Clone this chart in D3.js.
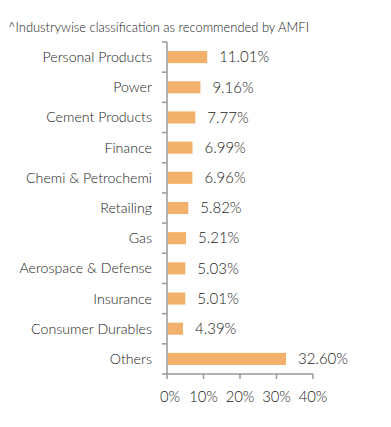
<!DOCTYPE html>
<html><head><meta charset="utf-8">
<script src="https://cdn.jsdelivr.net/npm/d3@7"></script>
<style>body{margin:0;background:#fff;} text{font-family:Lato, "Open Sans", sans-serif;}</style>
</head><body>
<svg id="c" width="391" height="427"></svg>
<script>
const categories = ["Personal Products","Power","Cement Products","Finance","Chemi & Petrochemi","Retailing","Gas","Aerospace & Defense","Insurance","Consumer Durables","Others"];
const values = [11.01,9.16,7.77,6.99,6.96,5.82,5.21,5.03,5.01,4.39,32.60];
const xTicks = [0,10,20,30,40];
const note = "^Industrywise classification as recommended by AMFI";

(function(){
const svg = d3.select("#c");
const mLeft = 167, mRight = 313, mTop = 42, mBottom = 374;
const txt = "#1a1a1a";
const x = d3.scaleLinear().domain([0,40]).range([mLeft,mRight]);
const y = d3.scaleBand().domain(categories).range([mTop,mBottom]).paddingInner(0.6).paddingOuter(0.3);
const yTickScale = d3.scaleLinear().domain([0,categories.length]).range([mTop,mBottom]);

svg.append("text").attr("x",8).attr("y",32).attr("font-size",13).attr("font-weight",300).attr("fill",txt).attr("textLength",301).attr("lengthAdjust","spacingAndGlyphs").text(note);

const g = svg.append("g");
g.append("line").attr("x1",mLeft).attr("x2",mLeft).attr("y1",mTop).attr("y2",mBottom).attr("stroke","#999").attr("stroke-width",1.5);
d3.range(categories.length+1).forEach(i=>{
  g.append("line").attr("x1",mLeft-5).attr("x2",mLeft).attr("y1",yTickScale(i)).attr("y2",yTickScale(i)).attr("stroke","#999").attr("stroke-width",1.5);
});
g.append("line").attr("x1",mLeft).attr("x2",mRight).attr("y1",mBottom).attr("y2",mBottom).attr("stroke","#999").attr("stroke-width",1.5);
xTicks.forEach(t=>{
  g.append("line").attr("x1",x(t)).attr("x2",x(t)).attr("y1",mBottom).attr("y2",mBottom+5).attr("stroke","#999").attr("stroke-width",1.5);
  g.append("text").attr("x",x(t)+(t===0?3:0)).attr("y",mBottom+28).attr("text-anchor","middle").attr("font-size",14.8).attr("font-weight",300).attr("fill",txt).text(t+"%");
});
g.selectAll("rect.bar").data(values).enter().append("rect")
  .attr("x",x(0)+1).attr("y",(d,i)=>y(categories[i]))
  .attr("width",d=>x(d)-x(0)-1).attr("height",y.bandwidth()).attr("fill","#F2B16A");
g.selectAll("text.cat").data(categories).enter().append("text")
  .attr("x",152).attr("y",d=>y(d)+y.bandwidth()/2).attr("dy","0.35em")
  .attr("text-anchor","end").attr("font-size",14.2).attr("font-weight",300).attr("fill",txt).text(d=>d);
g.selectAll("text.val").data(values).enter().append("text")
  .attr("x",d=>x(d)+12).attr("y",(d,i)=>y(categories[i])+y.bandwidth()/2).attr("dy","0.35em")
  .attr("font-size",15).attr("font-weight",300).attr("fill",txt).text(d=>d.toFixed(2)+"%");
})();
</script>
</body></html>
